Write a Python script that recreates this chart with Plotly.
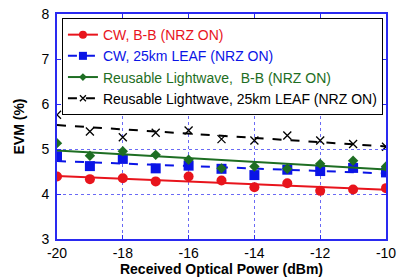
import numpy as np
import plotly.graph_objects as go

power = [-20, -19, -18, -17, -16, -15, -14, -13, -12, -11, -10]
cw_bb = [4.39, 4.33, 4.35, 4.28, 4.39, 4.30, 4.15, 4.24, 4.07, 4.10, 4.13]
cw_leaf = [4.84, 4.62, 4.78, 4.57, 4.63, 4.56, 4.42, 4.54, 4.51, 4.58, 4.48]
rl_bb = [5.13, 4.85, 4.95, 4.87, 4.76, 4.57, 4.61, 4.56, 4.67, 4.74, 4.61]
rl_leaf = [5.76, 5.39, 5.26, 5.36, 5.41, 5.22, 5.19, 5.30, 5.19, 5.11, 5.05]

x_tick_vals = [-20, -18, -16, -14, -12, -10]
x_tick_text = ["-20", "-18", "-16", "-14", "-12", "-10"]
y_tick_vals = [3, 4, 5, 6, 7, 8]

names = ["CW, B-B (NRZ ON)", "CW, 25km LEAF (NRZ ON)",
         "Reusable Lightwave,  B-B (NRZ ON)", "Reusable Lightwave, 25km LEAF (NRZ ON)"]
series = [cw_bb, cw_leaf, rl_bb, rl_leaf]
colors = ["#e8141c", "#0a14e6", "#1e6e23", "#000000"]
symbols = ["circle", "square", "diamond", "x-thin"]
msizes = [10, 10, 8, 8]
dashes = ["solid", "dash", "solid", "dash"]

FONT = "Liberation Sans, Arial"

fig = go.Figure()
x = np.array(power, dtype=float)
for name, ys, c, s, ms, d in zip(names, series, colors, symbols, msizes, dashes):
    k, b = np.polyfit(x, np.array(ys), 1)
    xf = [x.min(), x.max()]
    fig.add_trace(go.Scatter(x=xf, y=[k * v + b for v in xf], mode="lines",
                             line=dict(color=c, width=2, dash=d), showlegend=False))
    mk = dict(color=c, size=ms, symbol=s)
    if s == "x-thin":
        mk["line"] = dict(color=c, width=1.3)
    fig.add_trace(go.Scatter(x=power, y=ys, mode="markers", marker=mk, showlegend=False))
    lmk = dict(mk)
    lmk["size"] = max(ms - 2, 6)
    fig.add_trace(go.Scatter(x=[None], y=[None], mode="lines+markers",
                             name=f"<span style='color:{c}'>{name}</span>",
                             line=dict(color=c, width=2, dash=d), marker=lmk))

axis_common = dict(showline=True, linecolor="#2a2af0", linewidth=2, mirror="ticks",
                   ticks="inside", tickcolor="#2a2af0", ticklen=4,
                   showgrid=True, gridcolor="#6a6af5", griddash="dot", gridwidth=1,
                   zeroline=False, automargin=False,
                   tickfont=dict(family=FONT, size=14, color="black"))

fig.update_layout(
    width=397, height=279,
    margin=dict(l=57, r=11, t=14, b=40),
    paper_bgcolor="white", plot_bgcolor="white",
    showlegend=True,
    legend=dict(x=0.015, y=0.982, xanchor="left", yanchor="top",
                bordercolor="black", borderwidth=1, bgcolor="white",
                font=dict(family=FONT, size=14, color="black"),
                tracegroupgap=0, itemwidth=30),
    xaxis=dict(range=[-20, -10], tickvals=x_tick_vals, ticktext=x_tick_text,
               title=dict(text="<b>Received Optical Power (dBm)</b>", standoff=2,
                          font=dict(family=FONT, size=14, color="black")),
               **axis_common),
    yaxis=dict(range=[3, 8], tickvals=y_tick_vals, ticklabelstandoff=3,
               title=dict(text="<b>EVM (%)</b>", standoff=14,
                          font=dict(family=FONT, size=14, color="black")),
               **axis_common),
)

fig.write_html("out.html", config={"displayModeBar": False},
               post_script="document.body.style.margin='0px';document.body.style.padding='0px';")
